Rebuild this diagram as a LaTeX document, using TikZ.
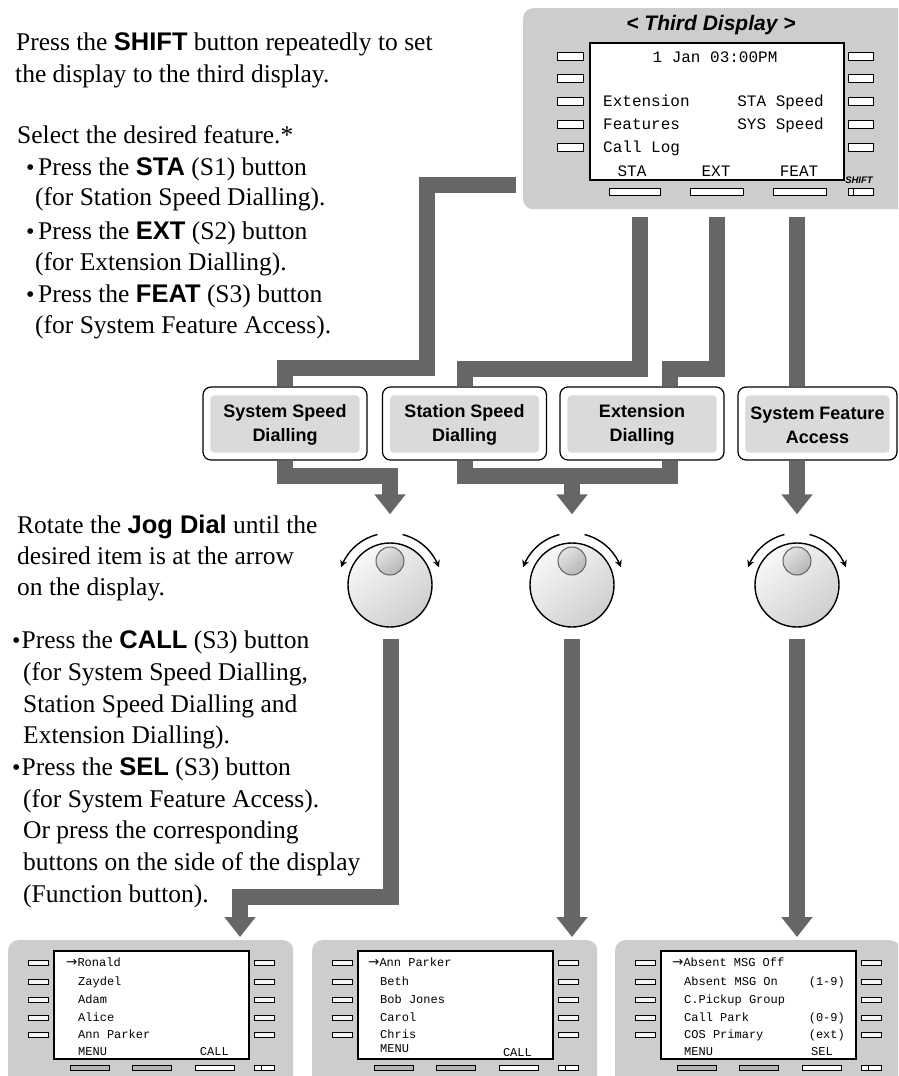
\documentclass[tikz,border=0pt]{standalone}
\usepackage{fontspec}
\setmainfont{Liberation Serif}
\newfontfamily\arial{Liberation Sans}
\newfontfamily\mono{Liberation Mono}
\newfontfamily\dvs{DejaVu Sans}
\usetikzlibrary{arrows.meta,calc}
\definecolor{barc}{HTML}{666666}
\definecolor{panelc}{HTML}{CDCDCD}
\definecolor{boxc}{HTML}{DADADA}
\definecolor{btngray}{HTML}{B4B4B4}
\newcommand\bw[1]{{\arial\bfseries #1}}
\newcommand\rarr{{\dvs\fontsize{13.5}{12}\selectfont →}}
\tikzset{
  bar/.style={line width=16pt, draw=barc, line join=miter, line cap=butt},
  arr/.style={bar, -{Triangle[length=20pt,width=30pt]}},
  txt/.style={anchor=base west, inner sep=0pt, font=\fontsize{25.5}{31.5}\selectfont},
  bul/.style={anchor=base west, inner sep=0pt, font=\fontsize{24}{24}\selectfont},
  scrn/.style={draw=black, line width=1.8pt, fill=white},
  sbtn/.style={draw=black, line width=0.8pt, fill=white},
  obox/.style={draw=black, line width=1.2pt, fill=white, rounded corners=8pt, minimum width=164pt, minimum height=73pt, inner sep=0pt},
  btxt/.style={font=\arial\bfseries\fontsize{18}{24}\selectfont, align=center, inner sep=0pt},
  dtxt/.style={font=\mono\fontsize{16}{16}\selectfont, inner sep=0pt},
  ptxt/.style={font=\mono\fontsize{12}{12}\selectfont, inner sep=0pt, anchor=base west},
  ptxr/.style={font=\mono\fontsize{12}{12}\selectfont, inner sep=0pt, anchor=base east},
  rot/.style={draw=black, line width=1.4pt, -{Stealth[length=7pt,width=7pt]}},
}
\newcommand\lpanel[2]{%
  \node[anchor=north west, fill=panelc, rounded corners=10pt, minimum width=285pt, minimum height=150pt, inner sep=0pt] (#1) at (#2,940) {};
  \draw[scrn] ({#2+46},951) rectangle ({#2+241},1059);
  \foreach \yy in {963,982,1000,1018,1035}{
    \draw[sbtn, fill=gray!8] ({#2+20},{\yy-2.8}) rectangle ({#2+40},{\yy+2.8});
    \draw[sbtn, fill=gray!8] ({#2+246},{\yy-2.8}) rectangle ({#2+266},{\yy+2.8});
  }
  \draw[sbtn, fill=btngray] ({#2+62},1065) rectangle ({#2+101},1070.5);
  \draw[sbtn, fill=btngray] ({#2+124},1065) rectangle ({#2+163},1070.5);
  \draw[sbtn] ({#2+187},1065) rectangle ({#2+226},1070.5);
  \draw[sbtn] ({#2+246},1065) rectangle ({#2+266},1070.5);
  \draw[black, line width=0.8pt] ({#2+253},1065) -- ({#2+253},1070.5);
}
\begin{document}
\begin{tikzpicture}[x=1pt,y=-1pt]
\clip (0,0) rectangle (898,1076);
\fill[white] (0,0) rectangle (898,1076);

% ---------- top display ----------
\node[anchor=north west, fill=panelc, rounded corners=10pt, minimum width=390pt, minimum height=201pt, inner sep=0pt] (disp) at (523,8) {};
\node[font=\arial\bfseries\itshape\fontsize{21}{21}\selectfont, inner sep=0pt] (title) at (711,25) {< Third Display >};
\node[scrn, anchor=north west, minimum width=254pt, minimum height=137pt, inner sep=0pt] (scr) at (589,42) {};
\foreach \yy in {56,78,101,124,147}{
  \draw[sbtn] (557,{\yy-4}) rectangle (583,{\yy+4});
  \draw[sbtn] (848,{\yy-4}) rectangle (873,{\yy+4});
}
\draw[sbtn] (609,188) rectangle (660,195);
\draw[sbtn] (690,188) rectangle (743,195);
\draw[sbtn] (773,188) rectangle (826,195);
\draw[sbtn] (848,188) rectangle (873,195);
\draw[black, line width=0.8pt] (853,188) -- (853,195);
\node[font=\arial\bfseries\itshape\fontsize{9.5}{9.5}\selectfont, inner sep=0pt] (shiftlbl) at (859,180) {SHIFT};
\node[dtxt] (dt0) at (715,57) {1 Jan 03:00PM};
\node[dtxt, anchor=base west] (dt1) at (603,106) {Extension};
\node[dtxt, anchor=base west] (dt2) at (603,129) {Features};
\node[dtxt, anchor=base west] (dt3) at (603,152) {Call Log};
\node[dtxt, anchor=base east] (dt4) at (824,106) {STA Speed};
\node[dtxt, anchor=base east] (dt5) at (824,129) {SYS Speed};
\node[dtxt] (sk1) at (632,171) {STA};
\node[dtxt] (sk2) at (716,171) {EXT};
\node[dtxt] (sk3) at (799,171) {FEAT};

% ---------- left texts ----------
\node[txt] (l1) at (16,50) {Press the \bw{SHIFT} button repeatedly to set};
\node[txt] (l2) at (15,82) {the display to the third display.};
\node[txt] (l3) at (17,143) {Select the desired feature.*};
\node[bul] (bu1) at (26,175) {•};
\node[txt] (l4) at (38,175) {Press the \bw{STA} (S1) button};
\node[txt] (l5) at (35,205) {(for Station Speed Dialling).};
\node[bul] (bu2) at (26,239) {•};
\node[txt] (l6) at (38,239) {Press the \bw{EXT} (S2) button};
\node[txt] (l7) at (35,270) {(for Extension Dialling).};
\node[bul] (bu3) at (26,302) {•};
\node[txt] (l8) at (38,302) {Press the \bw{FEAT} (S3) button};
\node[txt] (l9) at (35,333) {(for System Feature Access).};

\node[txt] (m1) at (17,533) {Rotate the \bw{Jog Dial} until the};
\node[txt] (m2) at (17,564) {desired item is at the arrow};
\node[txt] (m3) at (17,595) {on the display.};
\node[bul] (bu4) at (12,648) {•};
\node[txt] (m4) at (21.5,648) {Press the \bw{CALL} (S3) button};
\node[txt] (m5) at (23,680) {(for System Speed Dialling,};
\node[txt] (m6) at (23,712) {Station Speed Dialling and};
\node[txt] (m7) at (23,743) {Extension Dialling).};
\node[bul] (bu5) at (12,775) {•};
\node[txt] (m8) at (21.5,775) {Press the \bw{SEL} (S3) button};
\node[txt] (m9) at (23,807) {(for System Feature Access).};
\node[txt] (m10) at (23,838) {Or press the corresponding};
\node[txt] (m11) at (23,870) {buttons on the side of the display};
\node[txt] (m12) at (23,902) {(Function button).};

% ---------- feature boxes ----------
\node[obox] (b1) at (285,423.5) {};
\node[obox] (b2) at (464.5,423.5) {};
\node[obox] (b3) at (642,423.5) {};
\node[obox, minimum width=159pt] (b4) at (817.5,423.5) {};
\foreach \b in {b1,b2,b3,b4}{
  \fill[boxc, rounded corners=4pt] ([shift={(8,9)}]\b.north west) rectangle ([shift={(-8,-8)}]\b.south east);
}
\node[btxt] (b1t) at (285,425) {System Speed\\Dialling};
\node[btxt] (b2t) at (464.5,425) {Station Speed\\Dialling};
\node[btxt] (b3t) at (642,425) {Extension\\Dialling};
\node[btxt] (b4t) at (817.5,425) {System Feature\\Access};

% ---------- jog dials ----------
\foreach \n/\cx in {d1/390,d2/572,d3/797}{
  \node[circle, draw=black, line width=1.4pt, minimum size=84pt, inner sep=0pt,
        top color=gray!6, bottom color=gray!38, shading angle=40] (\n) at (\cx,585) {};
  \shade[top color=gray!22, bottom color=gray!58, shading angle=40, draw=gray!75!black, line width=1pt] (\cx,561) circle (14pt);
  \draw[rot] plot[variable=\t, domain=0:1, samples=25, smooth] ({\cx+52*cos(104+56*\t)},{585-52*sin(104+56*\t)});
  \draw[rot] plot[variable=\t, domain=0:1, samples=25, smooth] ({\cx+52*cos(76-56*\t)},{585-52*sin(76-56*\t)});
}

% ---------- bottom displays ----------
\lpanel{p1}{8}
\lpanel{p2}{312}
\lpanel{p3}{615}

\node[ptxt] (p1a) at (66,966.5) {\rarr Ronald};
\node[ptxt] (p1b) at (78,985.5) {Zaydel};
\node[ptxt] (p1c) at (78,1003.5) {Adam};
\node[ptxt] (p1d) at (78,1021.5) {Alice};
\node[ptxt] (p1e) at (78,1038.5) {Ann Parker};
\node[ptxt] (p1f) at (78,1055.5) {MENU};
\node[ptxr] (p1g) at (229,1055.5) {CALL};

\node[ptxt] (p2a) at (368,966.5) {\rarr Ann Parker};
\node[ptxt] (p2b) at (380,985.5) {Beth};
\node[ptxt] (p2c) at (380,1003.5) {Bob Jones};
\node[ptxt] (p2d) at (380,1021.5) {Carol};
\node[ptxt] (p2e) at (380,1038.5) {Chris};
\node[ptxt] (p2f) at (380,1052) {MENU};
\node[ptxr] (p2g) at (532,1056.5) {CALL};

\node[ptxt] (p3a) at (672,966.5) {\rarr Absent MSG Off};
\node[ptxt] (p3b) at (684,985.5) {Absent MSG On};
\node[ptxr] (p3b2) at (845,985.5) {(1-9)};
\node[ptxt] (p3c) at (684,1003.5) {C.Pickup Group};
\node[ptxt] (p3d) at (684,1021.5) {Call Park};
\node[ptxr] (p3d2) at (845,1021.5) {(0-9)};
\node[ptxt] (p3e) at (684,1038.5) {COS Primary};
\node[ptxr] (p3e2) at (845,1038.5) {(ext)};
\node[ptxt] (p3f) at (684,1055.5) {MENU};
\node[ptxr] (p3g) at (833,1055.5) {SEL};

% ---------- connectors ----------
\coordinate (c0) at (516,185);
\coordinate (cS) at (640,217);
\coordinate (cE) at (717,217);
\coordinate (cF) at (797,217);
\coordinate (x670) at (670,0);
\draw[bar] (c0) -- (427,185) -- (427,368) -| (b1.north);
\draw[bar] (cS) -- (640,369) -| (b2.north);
\draw[bar] (cE) -- (717,369) -| (b3.north -| x670);
\draw[bar] (cF) -- (b4.north -| cF);

\coordinate (t1) at ($(d1.north)+(0,-28)$);
\coordinate (t2) at ($(d2.north)+(0,-28)$);
\coordinate (t3) at ($(d3.north)+(0,-28)$);
\draw[arr] (b1.south) |- (390,476) -- (t1);
\draw[bar] (b2.south) |- (670,476) -- (b3.south -| x670);
\draw[arr] (572,470) -- (t2);
\draw[arr] (b4.south -| cF) -- (t3);

\coordinate (q1) at (240,937);
\coordinate (q2) at (572,937);
\coordinate (q3) at (797,937);
\draw[arr] ($(d1.south)+(1,11)$) |- (240,897) -- (q1);
\draw[arr] ($(d2.south)+(0,11)$) -- (q2);
\draw[arr] ($(d3.south)+(0,11)$) -- (q3);
\end{tikzpicture}
\end{document}
